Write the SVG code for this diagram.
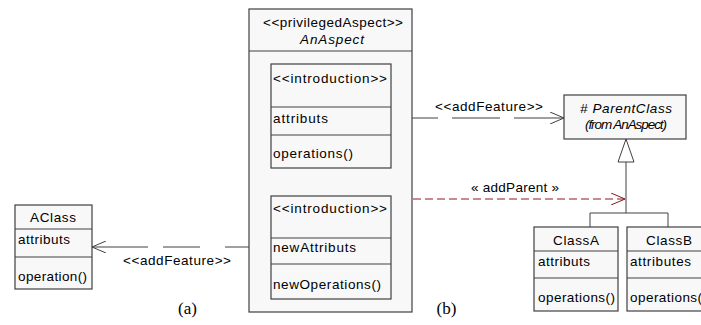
<svg xmlns="http://www.w3.org/2000/svg" width="701" height="325" viewBox="0 0 701 325">
<style>
.box{fill:#f8f8f8;stroke:#404040;stroke-width:1.2}
.ln{fill:none;stroke:#404040;stroke-width:1}
.t{font-family:"Liberation Sans",Arial,sans-serif;font-size:13.5px;fill:#000}
.c{text-anchor:middle}
.i{font-style:italic}
.s{font-family:"Liberation Serif","Times New Roman",serif;font-size:17px;fill:#000;text-anchor:middle}
</style>
<defs>
<marker id="open" viewBox="0 0 14 12" refX="14" refY="6" markerWidth="14" markerHeight="12" markerUnits="userSpaceOnUse" orient="auto">
<path d="M0,0 L14,6 L0,12" fill="none" stroke="#404040" stroke-width="1"/>
</marker>
<marker id="openr" viewBox="0 0 14 12" refX="14" refY="6" markerWidth="14" markerHeight="12" markerUnits="userSpaceOnUse" orient="auto">
<path d="M0,0 L14,6 L0,12" fill="none" stroke="#8b1a1a" stroke-width="1"/>
</marker>
</defs>
<rect width="701" height="325" fill="#fff"/>
<g id="connectors">
<line class="ln" x1="391" y1="118" x2="438" y2="118"/>
<line class="ln" x1="438" y1="118" x2="564" y2="118" stroke-dasharray="0,14,48,14,50,0" marker-end="url(#open)"/>
<line class="ln" x1="271" y1="247" x2="225" y2="247"/>
<line class="ln" x1="225" y1="247" x2="92" y2="247" stroke-dasharray="0,25,37,15,56,0" marker-end="url(#open)"/>
<line x1="413" y1="199" x2="625" y2="199" fill="none" stroke="#8b1a1a" stroke-width="1" stroke-dasharray="8,4" marker-end="url(#openr)"/>
<polygon points="626,139 618,162 634,162" fill="#fff" stroke="#404040" stroke-width="1"/>
<polyline class="ln" points="626,162 626,213"/>
<polyline class="ln" points="590,227 590,213 668,213 668,227"/>
<text class="t" x="435" y="111" textLength="108" lengthAdjust="spacing">&lt;&lt;addFeature&gt;&gt;</text>
<text class="t" x="123" y="265" textLength="108" lengthAdjust="spacing">&lt;&lt;addFeature&gt;&gt;</text>
<text class="t" x="471" y="192" textLength="88" lengthAdjust="spacing">« addParent »</text>
</g>
<g id="AnAspect">
<rect class="box" x="249" y="9" width="163" height="303"/>
<line class="ln" x1="249" y1="51" x2="412" y2="51"/>
<text class="t" x="263" y="27" textLength="140" lengthAdjust="spacing">&lt;&lt;privilegedAspect&gt;&gt;</text>
<text class="t i" x="300" y="44" textLength="64" lengthAdjust="spacing">AnAspect</text>
</g>
<g id="intro1">
<rect class="box" x="271" y="64" width="120" height="104"/>
<line class="ln" x1="271" y1="107" x2="391" y2="107"/>
<line class="ln" x1="271" y1="135" x2="391" y2="135"/>
<text class="t" x="273" y="83" textLength="114" lengthAdjust="spacing">&lt;&lt;introduction&gt;&gt;</text>
<text class="t" x="273" y="123" textLength="55" lengthAdjust="spacing">attributs</text>
<text class="t" x="273" y="158" textLength="80" lengthAdjust="spacing">operations()</text>
</g>
<g id="intro2">
<rect class="box" x="271" y="196" width="120" height="103"/>
<line class="ln" x1="271" y1="238" x2="391" y2="238"/>
<line class="ln" x1="271" y1="264" x2="391" y2="264"/>
<text class="t" x="273" y="213" textLength="114" lengthAdjust="spacing">&lt;&lt;introduction&gt;&gt;</text>
<text class="t" x="273" y="252" textLength="83" lengthAdjust="spacing">newAttributs</text>
<text class="t" x="273" y="289" textLength="108" lengthAdjust="spacing">newOperations()</text>
</g>
<g id="ParentClass">
<rect class="box" x="564" y="95" width="122" height="44"/>
<text class="t i" x="580" y="113" font-size="14.5" textLength="92" lengthAdjust="spacing"># ParentClass</text>
<text class="t i" x="585" y="129" font-size="9" textLength="82" lengthAdjust="spacing">(from AnAspect)</text>
</g>
<g id="ClassA">
<rect class="box" x="534" y="227" width="84" height="84"/>
<line class="ln" x1="534" y1="251" x2="618" y2="251"/>
<line class="ln" x1="534" y1="278" x2="618" y2="278"/>
<text class="t" x="553" y="245" font-size="14" textLength="46" lengthAdjust="spacing">ClassA</text>
<text class="t" x="538" y="266" textLength="52" lengthAdjust="spacing">attributs</text>
<text class="t" x="538" y="302" textLength="77" lengthAdjust="spacing">operations()</text>
</g>
<g id="ClassB">
<rect class="box" x="627" y="227" width="84" height="84"/>
<line class="ln" x1="627" y1="251" x2="711" y2="251"/>
<line class="ln" x1="627" y1="278" x2="711" y2="278"/>
<text class="t" x="646" y="245" font-size="14" textLength="46" lengthAdjust="spacing">ClassB</text>
<text class="t" x="630" y="266" textLength="61" lengthAdjust="spacing">attributes</text>
<text class="t" x="630" y="302" textLength="77" lengthAdjust="spacing">operations()</text>
</g>
<g id="AClass">
<rect class="box" x="15" y="205" width="77" height="84"/>
<line class="ln" x1="15" y1="229" x2="92" y2="229"/>
<line class="ln" x1="15" y1="257" x2="92" y2="257"/>
<text class="t" x="30" y="222" font-size="14" textLength="46" lengthAdjust="spacing">AClass</text>
<text class="t" x="18" y="244" textLength="52" lengthAdjust="spacing">attributs</text>
<text class="t" x="18" y="281" textLength="69" lengthAdjust="spacing">operation()</text>
</g>
<g id="labels">
<text class="s" x="187.5" y="314">(a)</text>
<text class="s" x="446.5" y="314">(b)</text>
</g>
</svg>
